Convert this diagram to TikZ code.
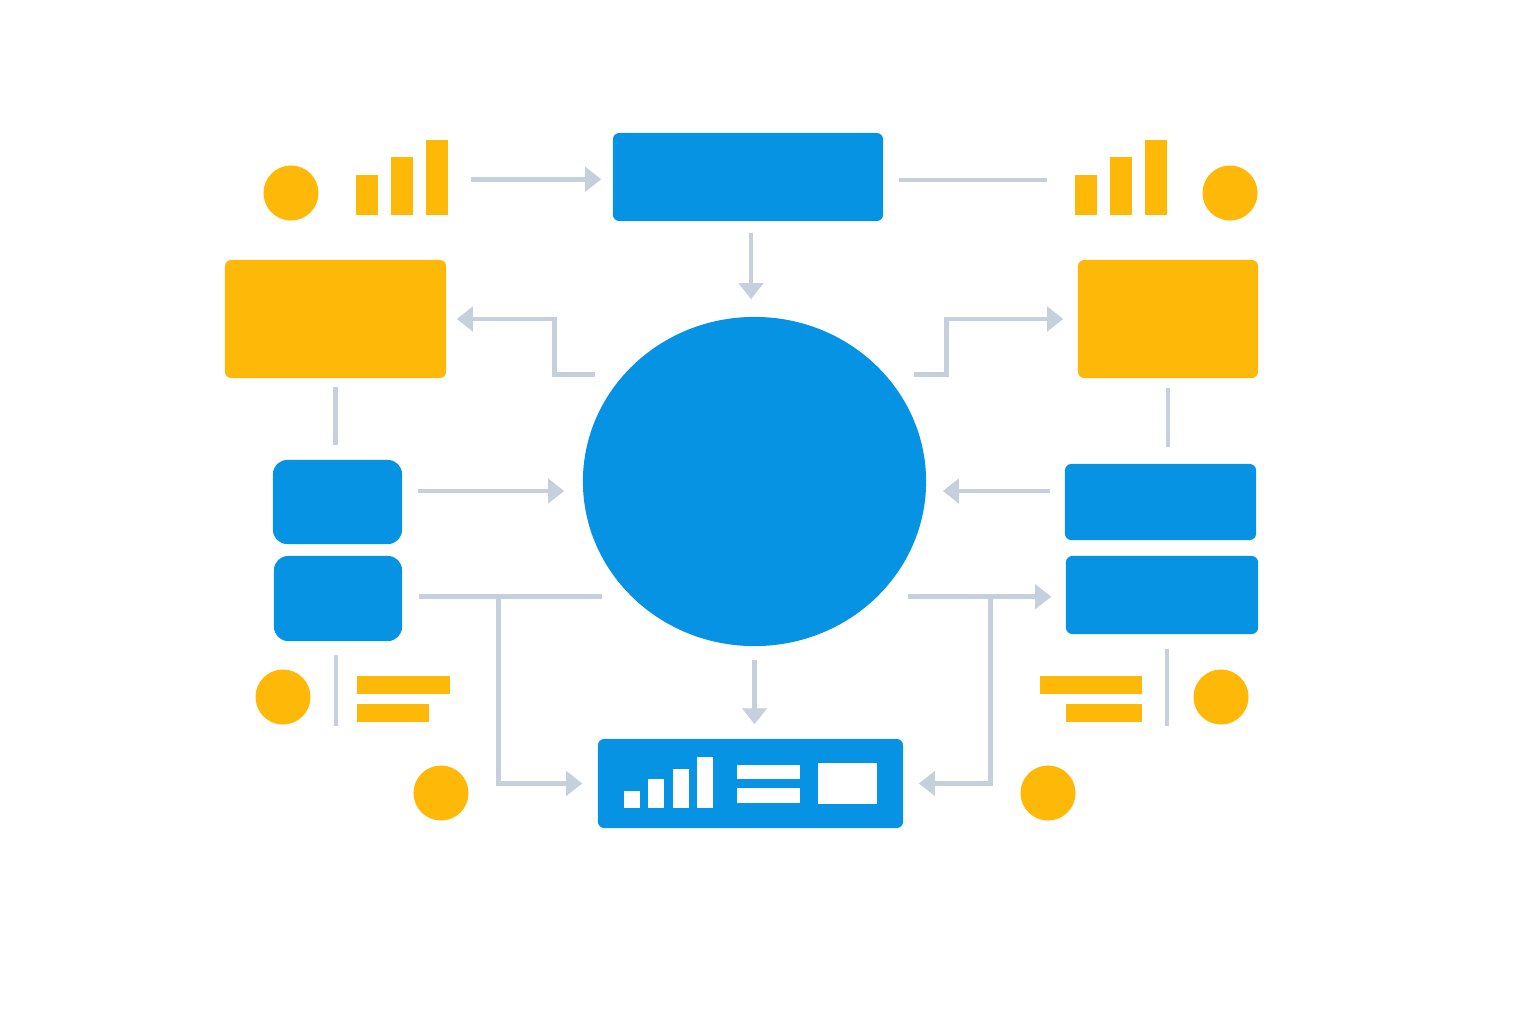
\documentclass[tikz,border=0pt]{standalone}
\usetikzlibrary{arrows.meta,shapes.geometric}
\definecolor{hubblue}{HTML}{0693E3}
\definecolor{amber}{HTML}{FDB808}
\definecolor{wire}{HTML}{C6CFDC}

\begin{document}
\begin{tikzpicture}[x=0.01cm, y=-0.01cm,
    bluebox/.style={fill=hubblue, inner sep=0, rounded corners=1.8pt},
    softbox/.style={fill=hubblue, inner sep=0, rounded corners=4pt},
    amberbox/.style={fill=amber, inner sep=0, rounded corners=1.8pt},
    dot/.style={circle, fill=amber, inner sep=0, minimum size=0.55cm},
    ybar/.style={fill=amber, inner sep=0, minimum width=0.22cm, anchor=south},
    yline/.style={fill=amber, inner sep=0, minimum height=0.18cm, anchor=west},
    wirel/.style={draw=wire, line width=1.4pt},
    arr/.style={wirel, -{Triangle[width=0.24cm, length=0.16cm]}}]

    % Canvas
    \fill[white] (0,0) rectangle (1536,1024);

    % Hub and main boxes
    \node[ellipse, fill=hubblue, inner sep=0, minimum width=3.43cm, minimum height=3.29cm] (hub) at (754.5,481.5) {};
    \node[bluebox, minimum width=2.70cm, minimum height=0.88cm] (top) at (748,177) {};
    \node[bluebox, minimum width=3.05cm, minimum height=0.89cm] (dash) at (750.5,783.5) {};
    \node[amberbox, minimum width=2.21cm, minimum height=1.18cm] (lyel) at (335.5,319) {};
    \node[amberbox, minimum width=1.80cm, minimum height=1.18cm] (ryel) at (1168,319) {};
    \node[softbox, minimum width=1.29cm, minimum height=0.84cm] (lb1) at (337.5,502) {};
    \node[softbox, minimum width=1.28cm, minimum height=0.85cm] (lb2) at (338,598.5) {};
    \node[bluebox, minimum width=1.91cm, minimum height=0.76cm] (rb1) at (1160.5,502) {};
    \node[bluebox, minimum width=1.92cm, minimum height=0.78cm] (rb2) at (1162,595) {};

    % Dashboard icons
    \foreach \x/\h in {624/17, 648/29, 673/39, 697/51}
        \fill[white] (\x,808) rectangle ++(16,-\h);
    \fill[white] (737,765) rectangle (800,779);
    \fill[white] (737,788) rectangle (800,803);
    \fill[white] (818,763) rectangle (877,804);

    % Amber bars and dots
    \foreach \i/\x/\h in {1/356/40, 2/391/58, 3/426/75}
        \node[ybar, minimum height=\h*0.01cm] (tlb\i) at (\x+11,216) {};
    \foreach \i/\x/\h in {1/1075/40, 2/1110/58, 3/1145/75}
        \node[ybar, minimum height=\h*0.01cm] (trb\i) at (\x+11,216) {};
    \node[yline, minimum width=0.93cm] (bll1) at (356,685) {};
    \node[yline, minimum width=0.72cm] (bll2) at (356,713) {};
    \node[yline, minimum width=1.02cm] (brl1) at (1039,685) {};
    \node[yline, minimum width=0.76cm] (brl2) at (1065,713) {};
    \node[dot] (tld) at (291,193) {};
    \node[dot] (trd) at (1230,193) {};
    \node[dot] (bld) at (283,697) {};
    \node[dot] (brd) at (1221,697) {};
    \node[dot] (lowl) at (441,793) {};
    \node[dot] (lowr) at (1048,793) {};

    % Edges
    \draw[arr, shorten <=.22cm, shorten >=.11cm] ([yshift=-.015cm]tlb3.east) -- ([yshift=-.015cm]tlb3.east -| top.west);
    \draw[wirel, shorten <=.15cm, shorten >=.27cm] ([yshift=-.03cm]top.east) -- ([yshift=-.03cm]top.east -| trb1.west);
    \draw[arr, shorten <=.11cm, shorten >=.17cm] ([xshift=.03cm]top.south) -- ([xshift=.03cm]top.south |- hub.north);
    \draw[arr, shorten <=.28cm, shorten >=.10cm] (hub.141) -| ([xshift=1.08cm]lyel.east) -- (lyel.east);
    \draw[arr, shorten <=.28cm, shorten >=.14cm] (hub.39) -| ([xshift=-1.31cm]ryel.west) -- (ryel.west);
    \draw[wirel, shorten <=.08cm, shorten >=.14cm] (lyel.south) -- (lyel.south |- lb1.north);
    \draw[wirel, shorten <=.09cm, shorten >=.16cm] (ryel.south) -- (ryel.south |- rb1.north);
    \draw[arr, shorten <=.15cm, shorten >=.18cm] ([yshift=.11cm]lb1.east) -- ([yshift=.11cm]lb1.east -| hub.west);
    \draw[arr, shorten <=.14cm, shorten >=.16cm] ([yshift=.11cm]rb1.west) -- ([yshift=.11cm]rb1.west -| hub.east);
    \draw[wirel, shorten <=.16cm, shorten >=.29cm] (lb2.east |- hub.223) -- (hub.223);
    \draw[arr, shorten >=.15cm] ([xshift=.96cm]lb2.east |- hub.223) |- (dash.west);
    \draw[arr, shorten <=.30cm, shorten >=.14cm] (hub.317) -- (hub.317 -| rb2.west);
    \draw[arr, shorten >=.15cm] ([xshift=-.75cm]rb2.west |- hub.317) |- (dash.east);
    \draw[arr, shorten <=.13cm, shorten >=.14cm] (hub.south) -- (hub.south |- dash.north);
    \draw[wirel] ([xshift=-.02cm, yshift=-.13cm]lb2.south) -- ++(0,71);
    \draw[wirel] ([xshift=.05cm, yshift=-.14cm]rb2.south) -- ++(0,77);
\end{tikzpicture}
\end{document}
